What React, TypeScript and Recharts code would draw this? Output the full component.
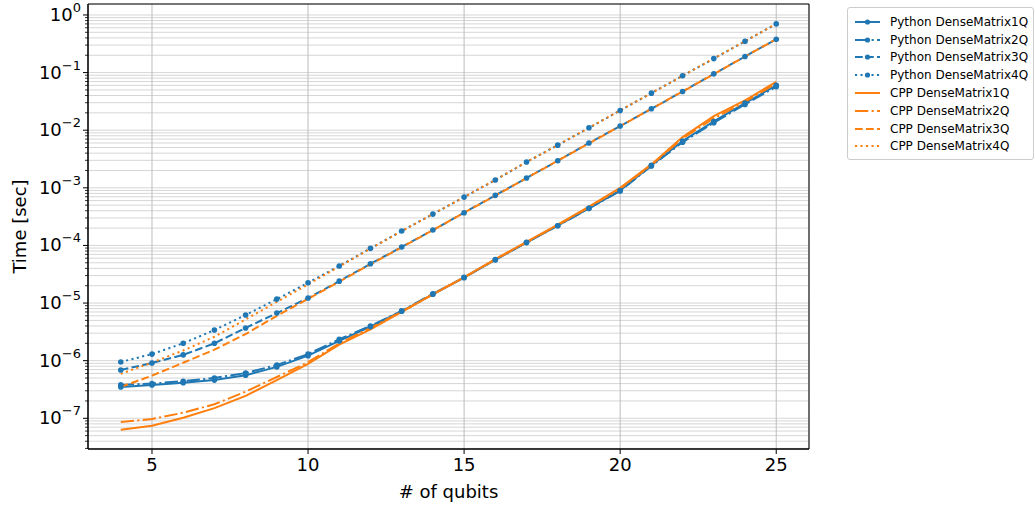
import { LineChart, Line, XAxis, YAxis, CartesianGrid, Legend, ReferenceArea } from 'recharts'

const qubits = [4, 5, 6, 7, 8, 9, 10, 11, 12, 13, 14, 15, 16, 17, 18, 19, 20, 21, 22, 23, 24, 25]

const pyDense1Q = [3.5e-7, 3.8e-7, 4.15e-7, 4.6e-7, 5.6e-7, 7.8e-7, 1.22e-6, 2.2e-6, 3.9e-6, 7.2e-6, 1.42e-5, 2.75e-5, 5.6e-5, 1.12e-4, 2.2e-4, 4.4e-4, 9.0e-4, 2.45e-3, 6.5e-3, 1.42e-2, 2.95e-2, 6.0e-2]
const pyDense2Q = [3.8e-7, 4.0e-7, 4.4e-7, 5.0e-7, 6.1e-7, 8.4e-7, 1.3e-6, 2.35e-6, 4.0e-6, 7.3e-6, 1.45e-5, 2.8e-5, 5.7e-5, 1.13e-4, 2.2e-4, 4.4e-4, 8.8e-4, 2.4e-3, 6.2e-3, 1.35e-2, 2.8e-2, 5.7e-2]
const pyDense3Q = [6.9e-7, 9.1e-7, 1.26e-6, 2.0e-6, 3.7e-6, 6.7e-6, 1.22e-5, 2.4e-5, 4.8e-5, 9.4e-5, 1.85e-4, 3.7e-4, 7.4e-4, 1.48e-3, 2.95e-3, 6.0e-3, 1.18e-2, 2.35e-2, 4.7e-2, 9.5e-2, 0.19, 0.38]
const pyDense4Q = [9.5e-7, 1.3e-6, 2.0e-6, 3.4e-6, 6.2e-6, 1.17e-5, 2.25e-5, 4.4e-5, 8.9e-5, 1.78e-4, 3.5e-4, 6.9e-4, 1.37e-3, 2.8e-3, 5.5e-3, 1.1e-2, 2.2e-2, 4.4e-2, 8.8e-2, 0.175, 0.35, 0.7]

const cppDense1Q = [6.3e-8, 7.4e-8, 1.02e-7, 1.5e-7, 2.45e-7, 4.6e-7, 8.8e-7, 1.9e-6, 3.5e-6, 7.0e-6, 1.42e-5, 2.8e-5, 5.8e-5, 1.15e-4, 2.3e-4, 4.7e-4, 1.0e-3, 2.55e-3, 7.6e-3, 1.75e-2, 3.3e-2, 6.9e-2]
const cppDense2Q = [8.6e-8, 9.7e-8, 1.25e-7, 1.75e-7, 2.9e-7, 5.2e-7, 9.4e-7, 2.0e-6, 3.7e-6, 7.1e-6, 1.43e-5, 2.8e-5, 5.7e-5, 1.13e-4, 2.25e-4, 4.6e-4, 9.6e-4, 2.5e-3, 7.2e-3, 1.6e-2, 3.1e-2, 6.5e-2]
const cppDense3Q = [3.5e-7, 5.5e-7, 9.2e-7, 1.55e-6, 2.9e-6, 6.0e-6, 1.18e-5, 2.35e-5, 4.7e-5, 9.3e-5, 1.84e-4, 3.7e-4, 7.3e-4, 1.47e-3, 2.95e-3, 5.9e-3, 1.18e-2, 2.35e-2, 4.7e-2, 9.4e-2, 0.19, 0.38]
const cppDense4Q = [5.9e-7, 9.3e-7, 1.5e-6, 2.6e-6, 5.2e-6, 1.05e-5, 2.1e-5, 4.3e-5, 8.8e-5, 1.77e-4, 3.5e-4, 6.9e-4, 1.37e-3, 2.8e-3, 5.5e-3, 1.1e-2, 2.2e-2, 4.4e-2, 8.8e-2, 0.175, 0.35, 0.7]

const xTicks = [5, 10, 15, 20, 25]
const yMajorTicks = [1e-7, 1e-6, 1e-5, 1e-4, 1e-3, 1e-2, 1e-1, 1]
const minorSteps = [2, 3, 4, 5, 6, 7, 8, 9]

const X_DOMAIN: [number, number] = [2.95, 26.05]
const Y_DOMAIN: [number, number] = [2.93e-8, 1.55]

const BLUE = '#1f77b4'
const ORANGE = '#ff7f0e'
const FONT = '"DejaVu Sans", sans-serif'

const DASHED = '7.7 3.3'
const DASHDOT = '13.3 3.3 2.1 3.3'
const DOTTED = '2.1 3.4'

const data = qubits.map((q, i) => ({
  q,
  py1: pyDense1Q[i],
  py2: pyDense2Q[i],
  py3: pyDense3Q[i],
  py4: pyDense4Q[i],
  cpp1: cppDense1Q[i],
  cpp2: cppDense2Q[i],
  cpp3: cppDense3Q[i],
  cpp4: cppDense4Q[i],
}))

const yAllTicks = [
  ...[1e-8, ...yMajorTicks].flatMap((m) => minorSteps.map((s) => s * m)),
  ...yMajorTicks,
]
  .filter((v) => v >= Y_DOMAIN[0] && v <= Y_DOMAIN[1])
  .sort((a, b) => a - b)

const series = [
  { key: 'py1', name: 'Python DenseMatrix1Q', color: BLUE, dash: undefined, marker: true },
  { key: 'py2', name: 'Python DenseMatrix2Q', color: BLUE, dash: DASHDOT, marker: true },
  { key: 'py3', name: 'Python DenseMatrix3Q', color: BLUE, dash: DASHED, marker: true },
  { key: 'py4', name: 'Python DenseMatrix4Q', color: BLUE, dash: DOTTED, marker: true },
  { key: 'cpp1', name: 'CPP DenseMatrix1Q', color: ORANGE, dash: undefined, marker: false },
  { key: 'cpp2', name: 'CPP DenseMatrix2Q', color: ORANGE, dash: DASHDOT, marker: false },
  { key: 'cpp3', name: 'CPP DenseMatrix3Q', color: ORANGE, dash: DASHED, marker: false },
  { key: 'cpp4', name: 'CPP DenseMatrix4Q', color: ORANGE, dash: DOTTED, marker: false },
]

function LogTick(props: any) {
  const { x, y, payload } = props
  const v = payload.value
  const lg = Math.log10(v)
  const e = Math.round(lg)
  const major = Math.abs(lg - e) < 1e-6
  return (
    <g>
      <line x1={x - (major ? 5 : 3)} x2={x} y1={y} y2={y} stroke="#000" strokeWidth={major ? 1 : 0.8} />
      {major && (
        <text x={x - 7} y={y + 6} textAnchor="end" fontSize={18} fontFamily={FONT} fill="#000">
          10
          <tspan dy={-9} fontSize={13}>
            {e < 0 ? '\u2212' + -e : String(e)}
          </tspan>
        </text>
      )}
    </g>
  )
}

function YLabel(props: any) {
  const { viewBox } = props
  const cx = viewBox.x + 11
  const cy = viewBox.y + viewBox.height / 2
  return (
    <text x={cx} y={cy} transform={`rotate(-90 ${cx} ${cy})`} textAnchor="middle" dominantBaseline="central" fontSize={18} fontFamily={FONT} fill="#000">
      Time [sec]
    </text>
  )
}

function XLabel(props: any) {
  const { viewBox } = props
  const cx = viewBox.x + viewBox.width / 2
  const cy = viewBox.y + 42
  return (
    <text x={cx} y={cy} textAnchor="middle" dominantBaseline="central" fontSize={18} fontFamily={FONT} fill="#000">
      # of qubits
    </text>
  )
}

function LegendBox() {
  return (
    <div
      style={{
        border: '1px solid #cccccc',
        borderRadius: 3,
        background: 'rgba(255,255,255,0.8)',
        padding: '5px 0 4px 0',
        width: 185,
        boxSizing: 'content-box',
        fontFamily: FONT,
        fontSize: 12,
      }}
    >
      {series.map((s) => (
        <div key={s.key} style={{ display: 'flex', alignItems: 'center', height: 17.8 }}>
          <svg width={25} height={10} style={{ marginLeft: 7, flex: 'none' }}>
            <line x1={0} x2={25} y1={5} y2={5} stroke={s.color} strokeWidth={2} strokeDasharray={s.dash} />
            {s.marker && <circle cx={12.5} cy={5} r={2.6} fill={s.color} />}
          </svg>
          <span style={{ marginLeft: 10, color: '#000', whiteSpace: 'nowrap' }}>{s.name}</span>
        </div>
      ))}
    </div>
  )
}

export default function App() {
  return (
    <div style={{ position: 'absolute', left: 0, top: 0, width: 1035, height: 506, background: '#fff', fontFamily: FONT }}>
      <LineChart width={1035} height={506} data={data} margin={{ top: 4, right: 226, bottom: 0, left: 8 }}>
        <CartesianGrid horizontal={true} vertical={false} stroke="#d6d6d6" strokeWidth={1} />
        <CartesianGrid horizontal={false} vertical={true} stroke="#bdbdbd" strokeWidth={1} />
        <XAxis
          dataKey="q"
          type="number"
          domain={X_DOMAIN}
          ticks={xTicks}
          allowDataOverflow
          height={57}
          tickSize={5}
          tickMargin={4}
          tick={{ fontSize: 18, fill: '#000', fontFamily: FONT }}
          stroke="#000"
          label={<XLabel />}
        />
        <YAxis
          scale="log"
          type="number"
          domain={Y_DOMAIN}
          ticks={yAllTicks}
          interval={0}
          allowDataOverflow
          width={80}
          tickSize={0}
          tickMargin={0}
          tick={<LogTick />}
          stroke="#000"
          label={<YLabel />}
        />
        <ReferenceArea x1={X_DOMAIN[0]} x2={X_DOMAIN[1]} y1={Y_DOMAIN[0]} y2={Y_DOMAIN[1]} fill="none" stroke="#000" strokeWidth={1} strokeOpacity={1} />
        {series.map((s) => (
          <Line
            key={s.key}
            dataKey={s.key}
            name={s.name}
            type="linear"
            stroke={s.color}
            strokeWidth={2}
            strokeDasharray={s.dash}
            dot={s.marker ? { r: 2.8, fill: s.color, stroke: 'none', strokeWidth: 0 } : false}
            activeDot={false}
            isAnimationActive={false}
          />
        ))}
        <Legend
          layout="horizontal"
          verticalAlign="middle"
          content={<LegendBox />}
          wrapperStyle={{ position: 'absolute', left: 847, top: 7, width: 187 }}
        />
      </LineChart>
    </div>
  )
}
